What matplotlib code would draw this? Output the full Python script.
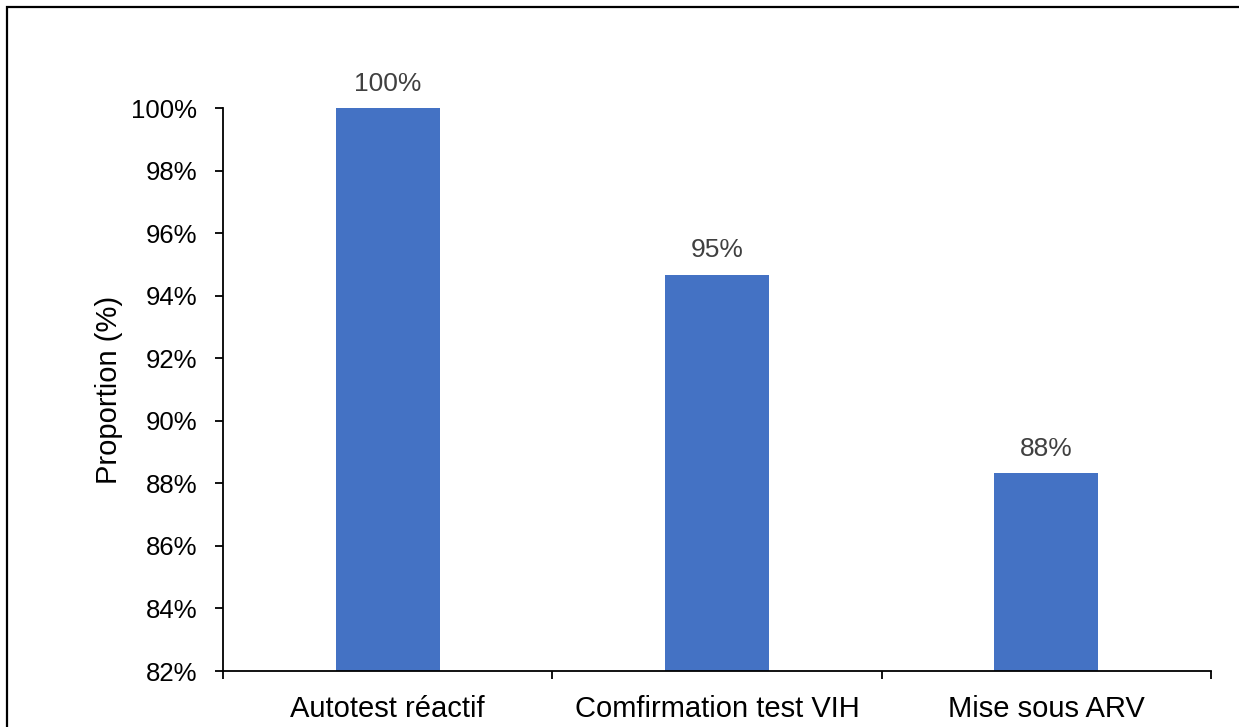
import numpy as np
import matplotlib.pyplot as plt
from matplotlib.patches import Rectangle

plt.rcParams['font.family'] = ['Liberation Sans', 'DejaVu Sans']

# data
categories = ['Autotest réactif', 'Comfirmation test VIH', 'Mise sous ARV']
values = [100.0, 94.67, 88.33]
labels = ['100%', '95%', '88%']
yticks = [82, 84, 86, 88, 90, 92, 94, 96, 98, 100]

fig = plt.figure(figsize=(12.39, 7.27), dpi=100)
ax = fig.add_axes([0.18, 0.077, 0.7974, 0.7744])

x = np.arange(len(categories))
bars = ax.bar(x, values, width=0.315, color='#4472C4', zorder=2)

for b, lab in zip(bars, labels):
    ax.text(b.get_x() + b.get_width() / 2, b.get_height() + 0.4, lab,
            ha='center', va='bottom', fontsize=19, color='#404040')

ax.set_xlim(-0.5, len(categories) - 0.5)
ax.set_ylim(82, 100)
ax.set_yticks(yticks)
ax.set_yticklabels([f'{t}%' for t in yticks], fontsize=18.5)
ax.set_ylabel('Proportion (%)', fontsize=21, labelpad=6)

# category labels at centres, tick marks between categories
ax.set_xticks(x)
ax.set_xticklabels(categories, fontsize=21)
ax.tick_params(axis='x', which='major', length=0, pad=17)
ax.set_xticks(np.arange(len(categories) + 1) - 0.5, minor=True)
ax.tick_params(axis='x', which='minor', length=6, width=1.3, direction='out')
ax.tick_params(axis='y', length=6, width=1.3, direction='out', pad=12.5)

for s in ['top', 'right']:
    ax.spines[s].set_visible(False)
for s in ['left', 'bottom']:
    ax.spines[s].set_linewidth(1.3)

# outer border of the chart area
fig.patches.append(Rectangle((7 / 1239, -0.5), 2, 1.5 - 7 / 727, transform=fig.transFigure,
                             fill=False, edgecolor='black', linewidth=1.6))

fig.savefig('out.png', dpi=100)
